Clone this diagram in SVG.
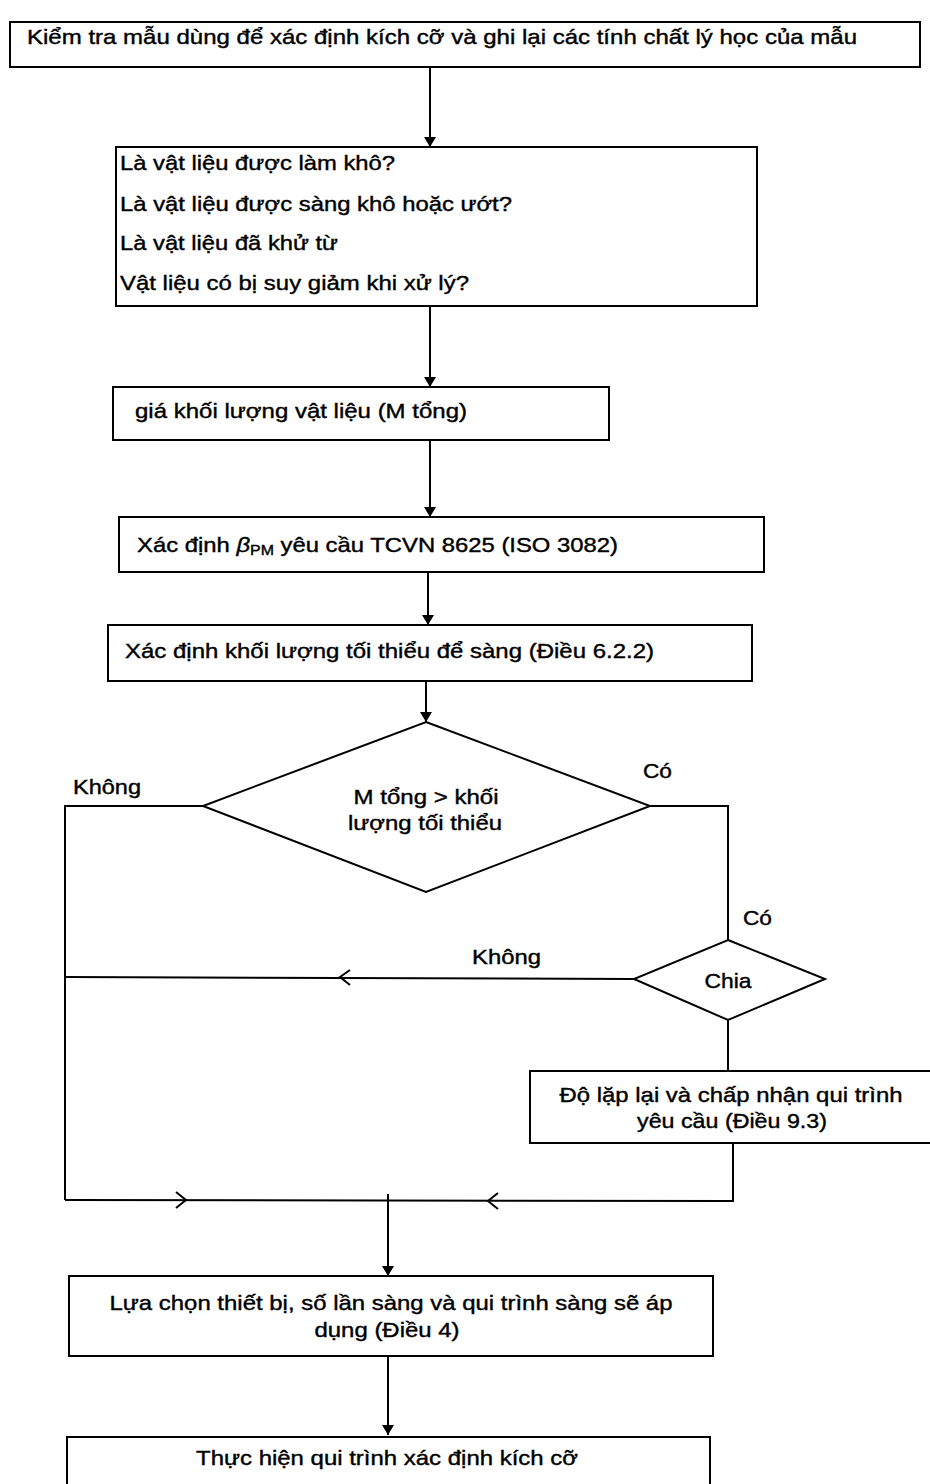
<svg xmlns="http://www.w3.org/2000/svg" width="930" height="1484" viewBox="0 0 930 1484">
<style>
.box{fill:#fff;stroke:#000;stroke-width:2}
.ln{fill:none;stroke:#000;stroke-width:2}
.t{font-family:"Liberation Sans",Arial,sans-serif;font-size:21px;fill:#000;stroke:#000;stroke-width:0.4}
.c{text-anchor:middle}
</style>
<defs>
<marker id="ah" viewBox="0 0 10 12" refX="10" refY="6" markerWidth="10" markerHeight="12" markerUnits="userSpaceOnUse" orient="auto">
<path d="M0,0 L10,6 L0,12 Z" fill="#000"/>
</marker>
</defs>
<rect width="930" height="1484" fill="#fff"/>
<g id="connectors">
<line class="ln" x1="430" y1="67" x2="430" y2="147" marker-end="url(#ah)"/>
<line class="ln" x1="430" y1="306" x2="430" y2="387" marker-end="url(#ah)"/>
<line class="ln" x1="430" y1="440" x2="430" y2="517" marker-end="url(#ah)"/>
<line class="ln" x1="428" y1="572" x2="428" y2="625" marker-end="url(#ah)"/>
<line class="ln" x1="426" y1="681" x2="426" y2="722" marker-end="url(#ah)"/>
<polyline class="ln" points="203,806 65,806 65,1200"/>
<polyline class="ln" points="650,806 728,806 728,940"/>
<line class="ln" x1="634" y1="979" x2="65" y2="977"/>
<polyline class="ln" points="350,970 340,977 350,985"/>
<line class="ln" x1="728" y1="1020" x2="728" y2="1071"/>
<polyline class="ln" points="733,1143 733,1201 65,1200"/>
<polyline class="ln" points="176,1192 186,1200 176,1208"/>
<polyline class="ln" points="498,1193 488,1201 498,1209"/>
<line class="ln" x1="388" y1="1194" x2="388" y2="1276" marker-end="url(#ah)"/>
<line class="ln" x1="388" y1="1356" x2="388" y2="1435" marker-end="url(#ah)"/>
<text class="t" x="73" y="794" textLength="68" lengthAdjust="spacingAndGlyphs">Không</text>
<text class="t" x="643" y="778" textLength="29" lengthAdjust="spacingAndGlyphs">Có</text>
<text class="t" x="743" y="925" textLength="29" lengthAdjust="spacingAndGlyphs">Có</text>
<text class="t" x="472" y="964" textLength="69" lengthAdjust="spacingAndGlyphs">Không</text>
</g>
<g id="n1">
<rect class="box" x="10" y="22" width="910" height="45"/>
<text class="t" x="27" y="44" textLength="830" lengthAdjust="spacingAndGlyphs">Kiểm tra mẫu dùng để xác định kích cỡ và ghi lại các tính chất lý học của mẫu</text>
</g>
<g id="n2">
<rect class="box" x="116" y="147" width="641" height="159"/>
<text class="t" x="120" y="170" textLength="275" lengthAdjust="spacingAndGlyphs">Là vật liệu được làm khô?</text>
<text class="t" x="120" y="211" textLength="392" lengthAdjust="spacingAndGlyphs">Là vật liệu được sàng khô hoặc ướt?</text>
<text class="t" x="120" y="250" textLength="218" lengthAdjust="spacingAndGlyphs">Là vật liệu đã khử từ</text>
<text class="t" x="120" y="290" textLength="349" lengthAdjust="spacingAndGlyphs">Vật liệu có bị suy giảm khi xử lý?</text>
</g>
<g id="n3">
<rect class="box" x="113" y="387" width="496" height="53"/>
<text class="t" x="135" y="418" textLength="332" lengthAdjust="spacingAndGlyphs">giá khối lượng vật liệu (M tổng)</text>
</g>
<g id="n4">
<rect class="box" x="119" y="517" width="645" height="55"/>
<text class="t" x="137" y="552" textLength="481" lengthAdjust="spacingAndGlyphs">Xác định <tspan font-style="italic">β</tspan><tspan font-size="14" dy="3">PM</tspan><tspan dy="-3"> yêu cầu TCVN 8625 (ISO 3082)</tspan></text>
</g>
<g id="n5">
<rect class="box" x="108" y="625" width="644" height="56"/>
<text class="t" x="125" y="658" textLength="529" lengthAdjust="spacingAndGlyphs">Xác định khối lượng tối thiểu để sàng (Điều 6.2.2)</text>
</g>
<g id="n6">
<polygon class="box" points="426,722 650,806 426,892 203,806"/>
<text class="t c" x="426" y="804" textLength="145" lengthAdjust="spacingAndGlyphs">M tổng &gt; khối</text>
<text class="t c" x="425" y="830" textLength="154" lengthAdjust="spacingAndGlyphs">lượng tối thiểu</text>
</g>
<g id="n7">
<polygon class="box" points="728,940 825,979 728,1020 634,979"/>
<text class="t c" x="728" y="988" textLength="47" lengthAdjust="spacingAndGlyphs">Chia</text>
</g>
<g id="n8">
<rect class="box" x="530" y="1071" width="410" height="72"/>
<text class="t c" x="731" y="1102" textLength="343" lengthAdjust="spacingAndGlyphs">Độ lặp lại và chấp nhận qui trình</text>
<text class="t c" x="732" y="1128" textLength="190" lengthAdjust="spacingAndGlyphs">yêu cầu (Điều 9.3)</text>
</g>
<g id="n9">
<rect class="box" x="69" y="1276" width="644" height="80"/>
<text class="t c" x="391" y="1310" textLength="563" lengthAdjust="spacingAndGlyphs">Lựa chọn thiết bị, số lần sàng và qui trình sàng sẽ áp</text>
<text class="t c" x="387" y="1337" textLength="145" lengthAdjust="spacingAndGlyphs">dụng (Điều 4)</text>
</g>
<g id="n10">
<rect class="box" x="67" y="1437" width="643" height="60"/>
<text class="t c" x="387" y="1465" textLength="382" lengthAdjust="spacingAndGlyphs">Thực hiện qui trình xác định kích cỡ</text>
</g>
</svg>
